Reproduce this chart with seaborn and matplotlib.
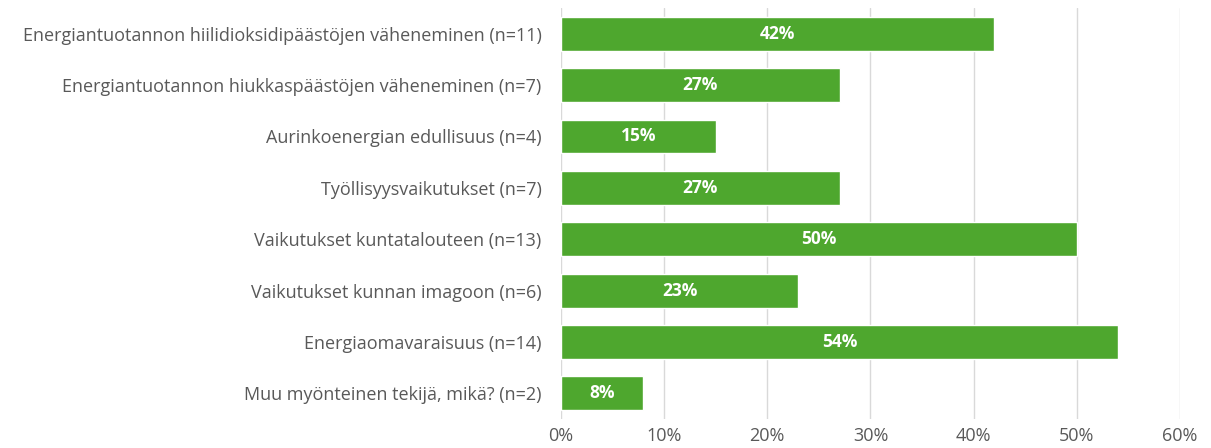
import matplotlib
matplotlib.use("Agg")
import matplotlib.pyplot as plt
from matplotlib.ticker import PercentFormatter
import pandas as pd
import seaborn as sns

# Data
categories = [
    "Energiantuotannon hiilidioksidipäästöjen väheneminen (n=11)",
    "Energiantuotannon hiukkaspäästöjen väheneminen (n=7)",
    "Aurinkoenergian edullisuus (n=4)",
    "Työllisyysvaikutukset (n=7)",
    "Vaikutukset kuntatalouteen (n=13)",
    "Vaikutukset kunnan imagoon (n=6)",
    "Energiaomavaraisuus (n=14)",
    "Muu myönteinen tekijä, mikä? (n=2)",
]
shares = [42, 27, 15, 27, 50, 23, 54, 8]

df = pd.DataFrame({"tekija": categories, "osuus": shares})

sns.set_theme(style="white")
plt.rcParams["font.family"] = ["Open Sans", "DejaVu Sans"]

fig = plt.figure(figsize=(12.11, 4.48), dpi=100)
ax = fig.add_axes([0.4632, 0.0647, 0.9744 - 0.4632, 0.982 - 0.0647])

sns.barplot(data=df, x="osuus", y="tekija", color="#4EA72E", saturation=1,
            width=0.66, ax=ax, zorder=3)

# white bold labels in the middle of each bar
for p, v in zip(ax.patches, shares):
    ax.text(p.get_x() + p.get_width() / 2, p.get_y() + p.get_height() / 2,
            f"{v}%", color="white", fontweight="bold", fontsize=12.5,
            ha="center", va="center", zorder=4)

ax.set_xlim(0, 60)
ax.set_xticks(range(0, 61, 10))
ax.xaxis.set_major_formatter(PercentFormatter(decimals=0))
ax.grid(axis="x", color="#d9d9d9", linewidth=1, zorder=0)
for s in ax.spines.values():
    s.set_visible(False)
ax.set_xlabel("")
ax.set_ylabel("")
ax.tick_params(axis="both", length=0, labelcolor="#595959", labelsize=13)
ax.tick_params(axis="y", pad=14)
ax.tick_params(axis="x", pad=6)

fig.savefig("out.png", dpi=100)
